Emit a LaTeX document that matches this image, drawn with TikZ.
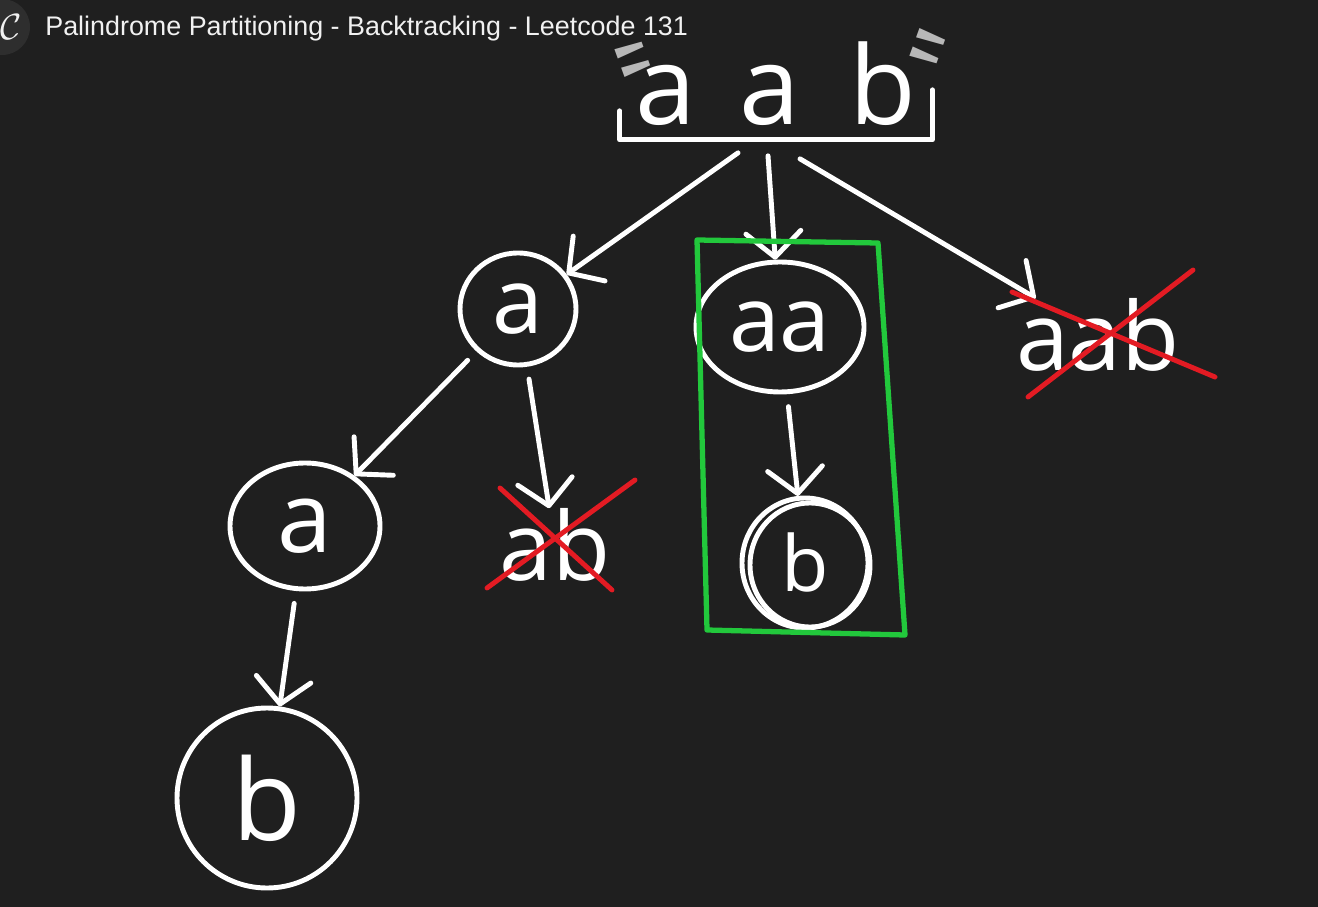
\documentclass[tikz,border=0pt]{standalone}
\usepackage{fontspec}
\setsansfont{Open Sans}
\newfontfamily\titlefont{Liberation Sans}
\usetikzlibrary{arrows.meta,calc,shapes.geometric}
\definecolor{board}{HTML}{1F1F1F}
\definecolor{chalk}{HTML}{FFFFFF}
\definecolor{chalkGrey}{HTML}{B8B8B8}
\definecolor{titleInk}{HTML}{F1F1F1}
\definecolor{badge}{HTML}{2E2E2E}
\definecolor{keep}{HTML}{22C83C}
\definecolor{reject}{HTML}{E31B23}

\begin{document}
\begin{tikzpicture}[
  font=\sffamily,
  penLine/.style={
    draw=chalk, line width=2.8pt,
    line cap=round, line join=round
  },
  penNode/.style={
    ellipse, penLine,
    inner sep=0pt,
    text=chalk,
    font=\sffamily\fontsize{52}{52}\selectfont
  },
  penWord/.style={
    inner sep=0pt,
    text=chalk,
    font=\sffamily\fontsize{54}{54}\selectfont
  },
  branchArrow/.style={
    penLine,
    -{Straight Barb[round,length=5mm,width=11mm]},
    shorten <=2.5mm
  },
  crossLine/.style={
    draw=reject, line width=2.8pt,
    line cap=round
  },
  keepBox/.style={
    draw=keep, line width=3pt,
    line join=round
  },
  quoteMark/.style={
    inner sep=0pt,
    text=chalkGrey,
    font=\sffamily\fontsize{62}{62}\selectfont
  }
]

% Canvas: 1318 x 907 px at 50 px per cm
\fill[board] (0,0) rectangle (26.36,-18.14);
\useasboundingbox (0,0) rectangle (26.36,-18.14);

% Video title bar
\node[circle, fill=badge, minimum size=1.12cm, inner sep=0pt] (badge) at (0.04,-0.54) {};
\node[text=titleInk, inner sep=0pt] (logo) at (0.22,-0.54) {\fontsize{20}{20}\selectfont$\mathcal{C}$};
\node[anchor=west, inner sep=0pt, text=titleInk,
      font=\titlefont\fontsize{15.3}{18}\selectfont] (title) at (0.9,-0.58)
  {Palindrome Partitioning - Backtracking - Leetcode 131};

% Input string with its bracket
\node[penWord, font=\sffamily\fontsize{62}{62}\selectfont,
      minimum width=6.24cm, minimum height=2.22cm] (root) at (15.52,-1.68)
  {a\hspace{0.4em}a\hspace{0.45em}b};
\draw[penLine] ([yshift=0.58cm]root.south west) -- (root.south west)
  -- (root.south east) -- ([yshift=1cm]root.south east);
\node[quoteMark, rotate=110] (openQuote) at (13.12,-1.0) {\textquotedbl};
\node[quoteMark, rotate=70] (closeQuote) at (19.02,-1.12) {\textquotedbl};

% First level
\node[penNode, minimum width=2.32cm, minimum height=2.24cm] (a1) at (10.36,-6.18) {a};
\node[penNode, minimum width=3.36cm, minimum height=2.6cm] (aa) at (15.6,-6.54) {aa};
\node[penWord] (aab) at (21.96,-6.7) {aab};

% Second level
\node[penNode, minimum width=3.0cm, minimum height=2.52cm,
      font=\sffamily\fontsize{56}{56}\selectfont] (a2) at (6.1,-10.52) {a};
\node[penWord] (ab) at (11.1,-10.9) {ab};
\node[penNode, minimum width=2.52cm, minimum height=2.6cm,
      font=\sffamily\fontsize{44}{44}\selectfont] (b2) at (16.1,-11.26) {\raisebox{-0.4cm}{b}};
\draw[penLine] ($(b2.center)+(0.1,-0.04)$) ellipse [x radius=1.2cm, y radius=1.24cm];

% Third level
\node[penNode, minimum width=3.6cm, minimum height=3.6cm,
      font=\sffamily\fontsize{64}{64}\selectfont] (b1) at (5.34,-15.96) {b};

% Branches
\draw[branchArrow, shorten <=0pt] ([shift={(-0.76,-0.26)}]root.south) -- (a1);
\draw[branchArrow, shorten <=0pt] ([shift={(-0.16,-0.32)}]root.south) -- (aa);
\draw[branchArrow, shorten <=0pt] ([shift={(0.48,-0.38)}]root.south) -- (aab);
\draw[branchArrow] (a1) -- (a2);
\draw[branchArrow] (a1) -- (ab);
\draw[branchArrow] (a2) -- (b1);
\draw[branchArrow] (aa) -- (b2);

% Non-palindromes struck out
\draw[crossLine] ($(aab)+(-1.72,0.86)$) -- ($(aab)+(2.34,-0.84)$);
\draw[crossLine] ($(aab)+(-1.4,-1.24)$) -- ($(aab)+(1.9,1.3)$);
\draw[crossLine] ($(ab)+(-1.1,1.14)$) -- ($(ab)+(1.14,-0.9)$);
\draw[crossLine] ($(ab)+(-1.36,-0.86)$) -- ($(ab)+(1.6,1.3)$);

% Highlighted branch
\draw[keepBox] (13.94,-4.8) -- (17.56,-4.86) -- (18.1,-12.7) -- (14.14,-12.6) -- cycle;

\end{tikzpicture}
\end{document}
